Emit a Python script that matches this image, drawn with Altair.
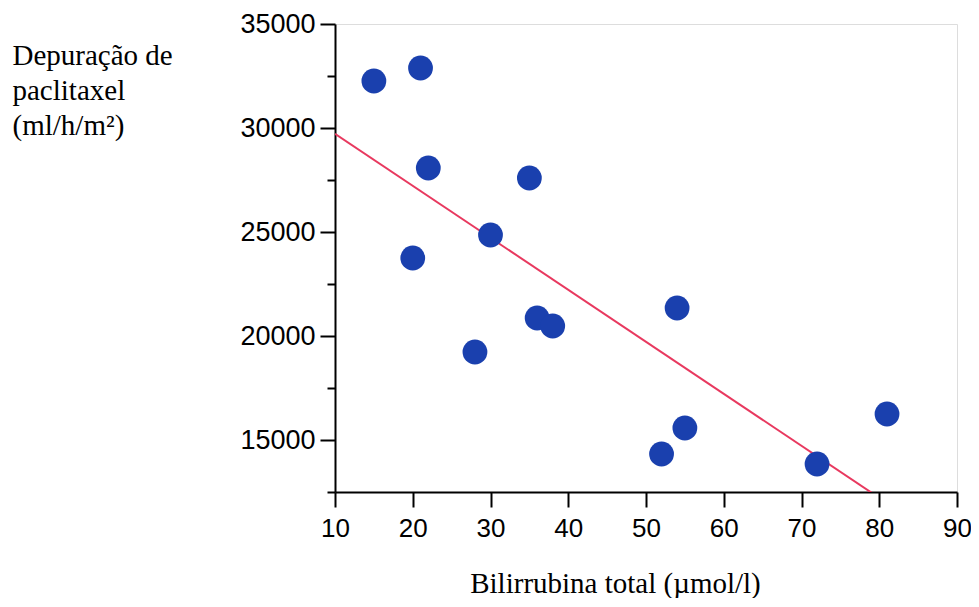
import altair as alt
import pandas as pd

# Data
bilirrubina = [15, 21, 22, 20, 30, 35, 28, 36, 38, 54, 52, 55, 72, 81]
depuracao = [32260, 32885, 28077, 23750, 24855, 27596, 19230, 20865, 20480,
             21346, 14327, 15577, 13846, 16250]
x_ticks = [10, 20, 30, 40, 50, 60, 70, 80, 90]
y_ticks = [12500, 15000, 17500, 20000, 22500, 25000, 27500, 30000, 32500, 35000]
x_title = "Bilirrubina total (µmol/l)"
y_title = ["Depuração de", "paclitaxel", "(ml/h/m²)"]

df = pd.DataFrame({"x": bilirrubina, "y": depuracao})

x_enc = alt.X(
    "x:Q",
    scale=alt.Scale(domain=[10, 90], nice=False, zero=False),
    axis=alt.Axis(
        values=x_ticks, title=x_title, grid=False,
        tickSize=15, tickWidth=2, tickColor="black",
        domainColor="black", domainWidth=2,
        labelFont="Liberation Sans", labelFontSize=26, labelColor="black",
        labelPadding=8, labelFlush=False, labelOverlap=False,
        titleFont="Liberation Serif", titleFontSize=29, titleFontWeight="normal",
        titleColor="black", titleX=280, titleY=100, titleAlign="center",
        titleBaseline="alphabetic",
    ),
)

y_enc = alt.Y(
    "y:Q",
    scale=alt.Scale(domain=[12500, 35000], nice=False, zero=False),
    axis=alt.Axis(
        values=y_ticks, title=y_title, grid=False,
        tickSize={"condition": {"test": "datum.value % 5000 === 0", "value": 15}, "value": 8},
        tickWidth=2, tickColor="black",
        domainColor="black", domainWidth=2,
        labelExpr="datum.value % 5000 === 0 ? format(datum.value, 'd') : ''",
        labelFont="Liberation Sans", labelFontSize=27, labelColor="black",
        labelPadding=5, labelFlush=False, labelOverlap=False,
        titleFont="Liberation Serif", titleFontSize=29, titleFontWeight="normal",
        titleColor="black", titleAngle=0, titleAlign="left",
        titleBaseline="alphabetic", titleX=-323, titleY=40, titleLineHeight=35,
    ),
)

points = alt.Chart(df).mark_circle(size=615, opacity=1, color="#1A40AE").encode(
    x=x_enc, y=y_enc
)

fit = alt.Chart(df).transform_regression(
    "x", "y", extent=[10, 90]
).mark_line(color="#E8395F", strokeWidth=2, clip=True).encode(
    x=x_enc, y=y_enc
)

chart = alt.layer(fit, points).properties(
    width=622, height=468,
    autosize=alt.AutoSizeParams(type="none"),
    padding={"left": 327, "top": 16, "right": 14, "bottom": 106},
).configure_view(stroke="black", strokeWidth=2).configure(background="white")

chart.save("out.html", embed_options={"renderer": "svg", "actions": False})
